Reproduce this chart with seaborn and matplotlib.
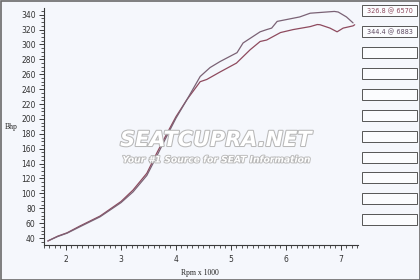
import matplotlib
matplotlib.use("Agg")
import matplotlib.pyplot as plt
from matplotlib.patches import Rectangle
from matplotlib.ticker import MultipleLocator
import matplotlib.patheffects as pe
import seaborn as sns
import pandas as pd

# ---- data ----
rpm_a = [1.67, 1.85, 2.02, 2.25, 2.62, 3.0, 3.22, 3.47, 3.65, 3.84, 4.0, 4.2,
         4.44, 4.56, 4.8, 5.1, 5.35, 5.53, 5.65, 5.9, 6.13, 6.44, 6.57, 6.62,
         6.8, 6.93, 7.04, 7.22, 7.25]
bhp_a = [36, 42.5, 47, 56, 69.5, 89, 104.5, 127, 154, 181, 203, 226,
         250, 253, 263, 275, 293, 304, 306, 316, 320, 324, 326.8, 326.5,
         322, 317, 322, 325, 326.5]

rpm_b = [1.67, 1.85, 2.02, 2.25, 2.62, 3.0, 3.22, 3.47, 3.65, 3.84, 4.0, 4.2,
         4.44, 4.62, 4.8, 5.11, 5.22, 5.53, 5.65, 5.74, 5.84, 6.25, 6.44,
         6.88, 6.95, 7.1, 7.22]
bhp_b = [36, 42, 46.5, 55, 68.5, 87.5, 102, 124, 150, 178, 201, 226,
         257, 269, 277, 289, 302, 317, 320, 322, 331, 337, 342,
         344.4, 343.6, 337, 329]

legend_labels = ["326.8 @ 6570", "344.4 @ 6883"] + [""] * 9
run_names = ["Run A", "Run B"]

y_label = "Bhp"
x_label = "Rpm x 1000"
wm_title = "SEATCUPRA.NET"
wm_sub = "Your #1 Source for SEAT Information"

# ---- styling ----
col_a = "#8e4a5e"
col_b = "#7a6275"
bg = "#f5f7fc"
dark = "#3a3a3a"

sns.set_style("white")
plt.rcParams["font.family"] = ["DejaVu Sans"]

df = pd.concat([
    pd.DataFrame({"rpm": rpm_a, "bhp": bhp_a, "run": run_names[0]}),
    pd.DataFrame({"rpm": rpm_b, "bhp": bhp_b, "run": run_names[1]}),
])

fig = plt.figure(figsize=(4.2, 2.8), dpi=100, facecolor=bg)
ax = fig.add_axes([44 / 420, 1 - 245 / 280, (358 - 44) / 420, (245 - 8) / 280])
ax.set_facecolor(bg)

# watermark (below lines)
fig.text(216 / 420, 1 - 140 / 280, wm_title, ha="center", va="center",
         fontsize=15, fontweight="bold", style="italic", color="white",
         path_effects=[pe.withStroke(linewidth=1.5, foreground="#b8b8b8")], zorder=0.5)
fig.text(216 / 420, 1 - 160 / 280, wm_sub, ha="center", va="center",
         fontsize=6.6, fontweight="bold", style="italic", color="white",
         path_effects=[pe.withStroke(linewidth=1.3, foreground="#b8b8b8")], zorder=0.5)

sns.lineplot(data=df, x="rpm", y="bhp", hue="run", sort=False,
             palette=[col_a, col_b], linewidth=0.9, legend=False, ax=ax, zorder=3)

ax.set_xlim(1.6, 7.31)
ax.set_ylim(30.6, 349)
ax.set_xticks([2, 3, 4, 5, 6, 7])
ax.set_yticks(list(range(40, 341, 20)))
ax.xaxis.set_minor_locator(MultipleLocator(0.1))
ax.yaxis.set_minor_locator(MultipleLocator(5))

for s in ["top", "right"]:
    ax.spines[s].set_visible(False)
for s in ["left", "bottom"]:
    ax.spines[s].set_color(dark)
    ax.spines[s].set_linewidth(0.8)

ax.tick_params(axis="both", which="both", bottom=True, left=True, top=False, right=False)
ax.tick_params(axis="both", which="major", direction="out", length=3.5, width=0.7,
               colors=dark, labelsize=5.5, labelcolor="#333333")
ax.tick_params(axis="both", which="minor", direction="out", length=2, width=0.6,
               colors=dark)
ax.tick_params(axis="x", which="major", pad=4)
ax.tick_params(axis="y", which="major", pad=2.5)
ax.set_xlabel("")
ax.set_ylabel("")

fig.text(200 / 420, 1 - 273 / 280, x_label, ha="center", va="center",
         fontsize=5.5, family=["Liberation Serif"], color="#222222")
fig.text(11 / 420, 1 - 127 / 280, y_label, ha="center", va="center",
         fontsize=5.5, family=["Liberation Serif"], color="#222222")

# legend boxes
box_tops = [5, 26, 47, 68, 89, 110, 131, 152, 172, 193, 214]
text_cols = [col_a, "#5e4a62"] + ["#333333"] * 9
for top, lab, tc in zip(box_tops, legend_labels, text_cols):
    fig.patches.append(Rectangle((362 / 420, 1 - (top + 11) / 280), 55 / 420, 11 / 280,
                                 transform=fig.transFigure, facecolor="#fbfcfe",
                                 edgecolor="#555555", linewidth=0.7))
    if lab:
        fig.text(389.5 / 420, 1 - (top + 5.7) / 280, lab, ha="center", va="center",
                 fontsize=4.7, color=tc)

# outer border
fig.patches.append(Rectangle((0.5 / 420, 0.5 / 280), 419 / 420, 279 / 280,
                             transform=fig.transFigure, facecolor="none",
                             edgecolor="#6a6a6a", linewidth=1.2))

fig.savefig("out.png", dpi=100, facecolor=bg)
